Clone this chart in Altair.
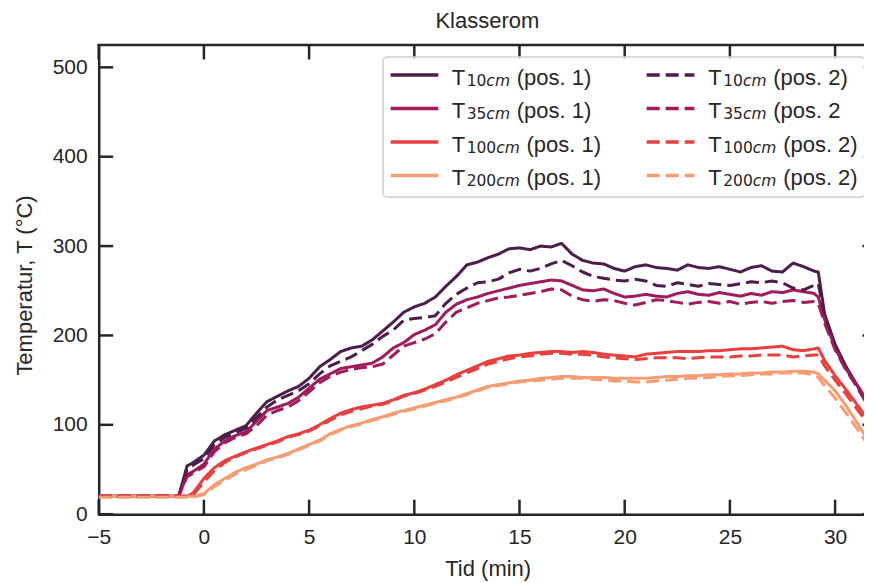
import altair as alt
import pandas as pd

# ---------------- data ----------------
TITLE = "Klasserom"
X_TITLE = "Tid (min)"
Y_TITLE = "Temperatur, T (°C)"
X_TICKS = [-5, 0, 5, 10, 15, 20, 25, 30]
Y_TICKS = [0, 100, 200, 300, 400, 500]
DEPTHS = ["10", "35", "100", "200"]
POSITIONS = ["pos. 1", "pos. 2"]
SUFFIX_POS1 = ["(pos. 1)", "(pos. 1)", "(pos. 1)", "(pos. 1)"]
SUFFIX_POS2 = ["(pos. 2)", "(pos. 2", "(pos. 2)", "(pos. 2)"]
COLORS = ["#4c1d4b", "#a11a5b", "#e83f3f", "#f69c73"]

TIME = [-5, -1.2, -0.8, -0.5,
        0, 0.5, 1, 1.5, 2, 2.5, 3, 3.5, 4, 4.5,
        5, 5.5, 6, 6.5, 7, 7.5, 8, 8.5, 9, 9.5,
        10, 10.5, 11, 11.5, 12, 12.5, 13, 13.5, 14, 14.5,
        15, 15.5, 16, 16.5, 17, 17.5, 18, 18.5, 19, 19.5,
        20, 20.5, 21, 21.5, 22, 22.5, 23, 23.5, 24, 24.5,
        25, 25.5, 26, 26.5, 27, 27.5, 28, 28.5, 29,
        29.2, 29.5, 30, 30.5, 31, 31.5, 32]

T10_P1 = [20, 20, 54, 58,
          66, 82, 89, 94, 99, 113, 126, 132, 138, 143,
          152, 165, 173, 182, 186, 188, 195, 205, 215, 226,
          232, 236, 243, 255, 266, 279, 282, 287, 291, 297,
          298, 296, 300, 299, 303, 291, 284, 281, 280, 275,
          272, 277, 279, 276, 275, 273, 279, 276, 275, 277,
          274, 271, 276, 278, 272, 271, 281, 277, 272,
          271, 224, 190, 166, 146, 126, 112]

T10_P2 = [20, 20, 50, 55,
          62, 78, 86, 91, 96, 108, 120, 128, 133, 138,
          146, 157, 166, 171, 176, 183, 190, 199, 206, 217,
          219, 220, 222, 236, 246, 253, 259, 260, 263, 270,
          274, 272, 275, 280, 284, 278, 271, 266, 264, 262,
          261, 263, 261, 256, 255, 259, 257, 255, 258, 257,
          256, 258, 260, 259, 261, 259, 253, 251, 256,
          258, 222, 188, 164, 144, 124, 110]

T35_P1 = [20, 20, 44, 48,
          56, 73, 82, 88, 92, 104, 116, 120, 124, 131,
          141, 151, 157, 163, 165, 167, 169, 176, 186, 192,
          201, 206, 212, 226, 235, 240, 243, 247, 250, 253,
          256, 258, 260, 262, 261, 256, 251, 250, 252, 247,
          243, 244, 246, 244, 243, 247, 249, 246, 245, 248,
          246, 244, 247, 245, 249, 248, 251, 249, 247,
          243, 218, 186, 163, 146, 128, 114]

T35_P2 = [20, 20, 42, 46,
          53, 70, 80, 86, 90, 99, 111, 116, 120, 127,
          137, 147, 154, 159, 162, 164, 165, 168, 178, 188,
          192, 196, 202, 215, 226, 231, 236, 239, 242, 243,
          245, 247, 249, 252, 251, 244, 240, 238, 240, 239,
          236, 234, 237, 240, 239, 237, 235, 237, 238, 236,
          238, 235, 237, 238, 236, 238, 239, 237, 238,
          236, 214, 184, 162, 144, 126, 112]

T100_P1 = [20, 20, 20, 24,
           40, 52, 60, 65, 70, 74, 78, 82, 87, 90,
           94, 100, 107, 113, 117, 120, 122, 124, 128, 133,
           136, 140, 145, 150, 156, 161, 166, 171, 174, 177,
           178, 180, 181, 182, 182, 181, 182, 181, 179, 178,
           177, 176, 179, 180, 181, 182, 182, 182, 183, 183,
           184, 185, 185, 186, 187, 188, 184, 183, 185,
           186, 172, 155, 140, 124, 108, 96]

T100_P2 = [20, 20, 20, 22,
           36, 49, 58, 64, 69, 73, 77, 81, 86, 89,
           93, 99, 105, 111, 115, 118, 121, 123, 127, 132,
           135, 139, 143, 148, 153, 158, 163, 168, 171, 174,
           176, 177, 179, 180, 180, 179, 179, 178, 176, 175,
           174, 173, 174, 175, 175, 175, 174, 175, 176, 176,
           176, 177, 177, 178, 178, 178, 176, 177, 178,
           178, 166, 150, 135, 119, 103, 91]

T200_P1 = [20, 20, 20, 20,
           23, 33, 40, 47, 52, 56, 61, 64, 68, 73,
           78, 83, 90, 95, 99, 102, 106, 109, 113, 116,
           119, 122, 125, 128, 131, 135, 139, 143, 145, 147,
           149, 150, 152, 153, 154, 154, 153, 153, 153, 152,
           152, 152, 152, 153, 154, 154, 155, 155, 156, 156,
           157, 157, 158, 158, 159, 159, 160, 160, 159,
           157, 150, 138, 122, 104, 85, 70]

T200_P2 = [19, 19, 19, 19,
           22, 31, 38, 45, 50, 55, 60, 63, 67, 72,
           77, 82, 89, 94, 98, 101, 105, 108, 112, 115,
           118, 121, 124, 127, 130, 134, 138, 142, 144, 146,
           148, 149, 150, 151, 152, 152, 152, 151, 150, 149,
           149, 148, 148, 149, 150, 151, 152, 152, 153, 154,
           155, 155, 156, 157, 157, 158, 158, 158, 156,
           153, 144, 130, 114, 97, 80, 66]

SERIES = [
    ("10", "pos. 1", T10_P1), ("35", "pos. 1", T35_P1),
    ("100", "pos. 1", T100_P1), ("200", "pos. 1", T200_P1),
    ("10", "pos. 2", T10_P2), ("35", "pos. 2", T35_P2),
    ("100", "pos. 2", T100_P2), ("200", "pos. 2", T200_P2),
]

# ---------------- layout / style ----------------
FONT = "Liberation Sans"
SUBFONT = "DejaVu Sans"
INK = "#262626"
PAD_L, PAD_T, PAD_B = 90.7, 37, 68
TOTAL_W = 856
W, H = TOTAL_W - PAD_L, 469.2
PPM = 21.04                      # pixels per minute in the reference
XMIN = -5
XMAX = XMIN + W / PPM            # reference axis runs to 32, just past the window
YMIN, YMAX = 0, 525
TICK = 14.5
LW = 2.5
RIGHT_SPINE = (32 - XMIN) * PPM


def dx(p):
    """plot-pixel x -> data x"""
    return XMIN + p / PPM


def dy(p):
    """plot-pixel y (from top) -> data y"""
    return YMAX - p * (YMAX - YMIN) / H


rows = []
for d, p, vals in SERIES:
    for t, v in zip(TIME, vals):
        rows.append({"t": t, "v": v, "depth": d, "pos": p, "series": d + "|" + p})
df = pd.DataFrame(rows)

X_SCALE = alt.Scale(domain=[XMIN, XMAX], nice=False, zero=False)
Y_SCALE = alt.Scale(domain=[YMIN, YMAX], nice=False, zero=False)
C_SCALE = alt.Scale(domain=DEPTHS, range=COLORS)

X_AXIS = alt.Axis(
    values=X_TICKS, ticks=False, tickSize=0, grid=False,
    domain=True, domainColor=INK, domainWidth=LW, domainCap="square",
    labelFont=FONT, labelFontSize=21, labelColor=INK, labelPadding=12,
    labelFlush=False, labelOverlap=False,
    title=X_TITLE, titleFont=FONT, titleFontSize=22, titleFontWeight="normal",
    titleColor=INK, titleX=389, titleY=61, titleBaseline="alphabetic", titleAlign="center",
)
Y_AXIS = alt.Axis(
    values=Y_TICKS, ticks=False, tickSize=0, grid=False,
    domain=True, domainColor=INK, domainWidth=LW, domainCap="square",
    labelFont=FONT, labelFontSize=21, labelColor=INK, labelPadding=11.5,
    labelFlush=False, labelOverlap=False,
    title=Y_TITLE, titleFont=FONT, titleFontSize=22, titleFontWeight="normal",
    titleColor=INK, titleX=-67.7, titleY=240, titleAngle=270,
    titleBaseline="alphabetic", titleAlign="center",
)


# helper layers share the scales; no axis given here (axis=None in a layer drops the shared axis)
def X(f):
    return alt.X(f + ":Q", scale=X_SCALE)


def Y(f):
    return alt.Y(f + ":Q", scale=Y_SCALE)


lines = alt.Chart(df).mark_line(clip=True, strokeWidth=3, strokeJoin="round").encode(
    x=alt.X("t:Q", scale=X_SCALE, axis=X_AXIS),
    y=alt.Y("v:Q", scale=Y_SCALE, axis=Y_AXIS),
    color=alt.Color("depth:N", scale=C_SCALE, legend=None),
    strokeDash=alt.StrokeDash("pos:N", scale=alt.Scale(domain=POSITIONS, range=[[1, 0], [13, 6]]), legend=None),
    detail="series:N",
)

# inward ticks on all four sides + top spine (all through the shared scales)
ydf = pd.DataFrame({"v": Y_TICKS, "a": XMIN, "b": dx(TICK),
                    "c": dx(min(RIGHT_SPINE - TICK, W - 1.5)), "d": XMAX})
xdf = pd.DataFrame({"t": X_TICKS, "a": YMIN, "b": dy(H - TICK), "c": YMAX, "d": dy(TICK)})
sdf = pd.DataFrame({"a": [XMIN], "b": [XMAX], "c": [YMAX]})
rule_kw = dict(color=INK, strokeWidth=LW)
left_ticks = alt.Chart(ydf).mark_rule(**rule_kw).encode(y=Y("v"), x=X("a"), x2="b:Q")
right_ticks = alt.Chart(ydf).mark_rule(**rule_kw).encode(y=Y("v"), x=X("c"), x2="d:Q")
bottom_ticks = alt.Chart(xdf).mark_rule(**rule_kw).encode(x=X("t"), y=Y("a"), y2="b:Q")
top_ticks = alt.Chart(xdf).mark_rule(**rule_kw).encode(x=X("t"), y=Y("c"), y2="d:Q")
top_spine = alt.Chart(sdf).mark_rule(color=INK, strokeWidth=LW, strokeCap="square").encode(
    x=X("a"), x2="b:Q", y=Y("c"))

# ---------------- legend (manual, for subscripts) ----------------
ROW_Y = [30, 63.5, 97, 130.5]
COL_LINE = [(292, 339.6), (548, 595.7)]
COL_TEXT = [353, 609.6]
SUB_FS = 15.5
DIGIT_W = 0.6362 * SUB_FS
CM_W = (0.5498 + 0.9741) * SUB_FS
T_W = 0.611 * 22

leg_rows = []
for ci, (p, sufs) in enumerate([("pos. 1", SUFFIX_POS1), ("pos. 2", SUFFIX_POS2)]):
    for ri, d in enumerate(DEPTHS):
        tx = COL_TEXT[ci]
        sx = tx + T_W + 1.5
        cx = sx + len(d) * DIGIT_W
        fx = cx + CM_W + 6.7
        leg_rows.append({
            "pos": p, "depth": d,
            "lx1": dx(COL_LINE[ci][0]), "lx2": dx(COL_LINE[ci][1]), "ly": dy(ROW_Y[ri]),
            "tx": dx(tx), "ty": dy(ROW_Y[ri] + 10), "T": "T",
            "sx": dx(sx), "sy": dy(ROW_Y[ri] + 11), "digits": d,
            "cx": dx(cx), "cm": "cm",
            "fx": dx(fx), "suffix": sufs[ri],
        })
leg = pd.DataFrame(leg_rows)
box = pd.DataFrame({"x1": [dx(284.3)], "x2": [dx(766.3)], "y1": [dy(12)], "y2": [dy(152)]})

legend_box = alt.Chart(box).mark_rect(
    fill="white", fillOpacity=0.85, stroke="#cfcfcf", strokeWidth=1.5, cornerRadius=4
).encode(x=X("x1"), x2="x2:Q", y=Y("y1"), y2="y2:Q")

leg_col = alt.Color("depth:N", scale=C_SCALE, legend=None)
leg_solid = alt.Chart(leg).transform_filter(alt.datum.pos == "pos. 1").mark_rule(strokeWidth=3.3).encode(
    x=X("lx1"), x2="lx2:Q", y=Y("ly"), color=leg_col)
leg_dash = alt.Chart(leg).transform_filter(alt.datum.pos == "pos. 2").mark_rule(strokeWidth=3.3, strokeDash=[13, 6]).encode(
    x=X("lx1"), x2="lx2:Q", y=Y("ly"), color=leg_col)
txt = dict(color=INK, align="left", baseline="alphabetic")
leg_T = alt.Chart(leg).mark_text(font=FONT, fontSize=22, **txt).encode(x=X("tx"), y=Y("ty"), text="T:N")
leg_digits = alt.Chart(leg).mark_text(font=SUBFONT, fontSize=SUB_FS, **txt).encode(x=X("sx"), y=Y("sy"), text="digits:N")
leg_cm = alt.Chart(leg).mark_text(font=SUBFONT, fontSize=SUB_FS, fontStyle="italic", **txt).encode(x=X("cx"), y=Y("sy"), text="cm:N")
leg_suffix = alt.Chart(leg).mark_text(font=FONT, fontSize=22, **txt).encode(x=X("fx"), y=Y("ty"), text="suffix:N")

chart = alt.layer(
    lines, top_spine, left_ticks, right_ticks, bottom_ticks, top_ticks,
    legend_box, leg_solid, leg_dash, leg_T, leg_digits, leg_cm, leg_suffix,
).properties(
    width=W, height=H,
    title=alt.Title(TITLE, font=FONT, fontSize=22, fontWeight="normal", color=INK,
                    anchor="middle", offset=10, dx=6),
    autosize=alt.AutoSizeParams(type="none"),
    padding={"left": PAD_L, "top": PAD_T, "right": 0, "bottom": PAD_B},
).configure(background="white", view=alt.ViewConfig(strokeWidth=0))

chart.save("out.html", embed_options={"renderer": "svg", "actions": False})
